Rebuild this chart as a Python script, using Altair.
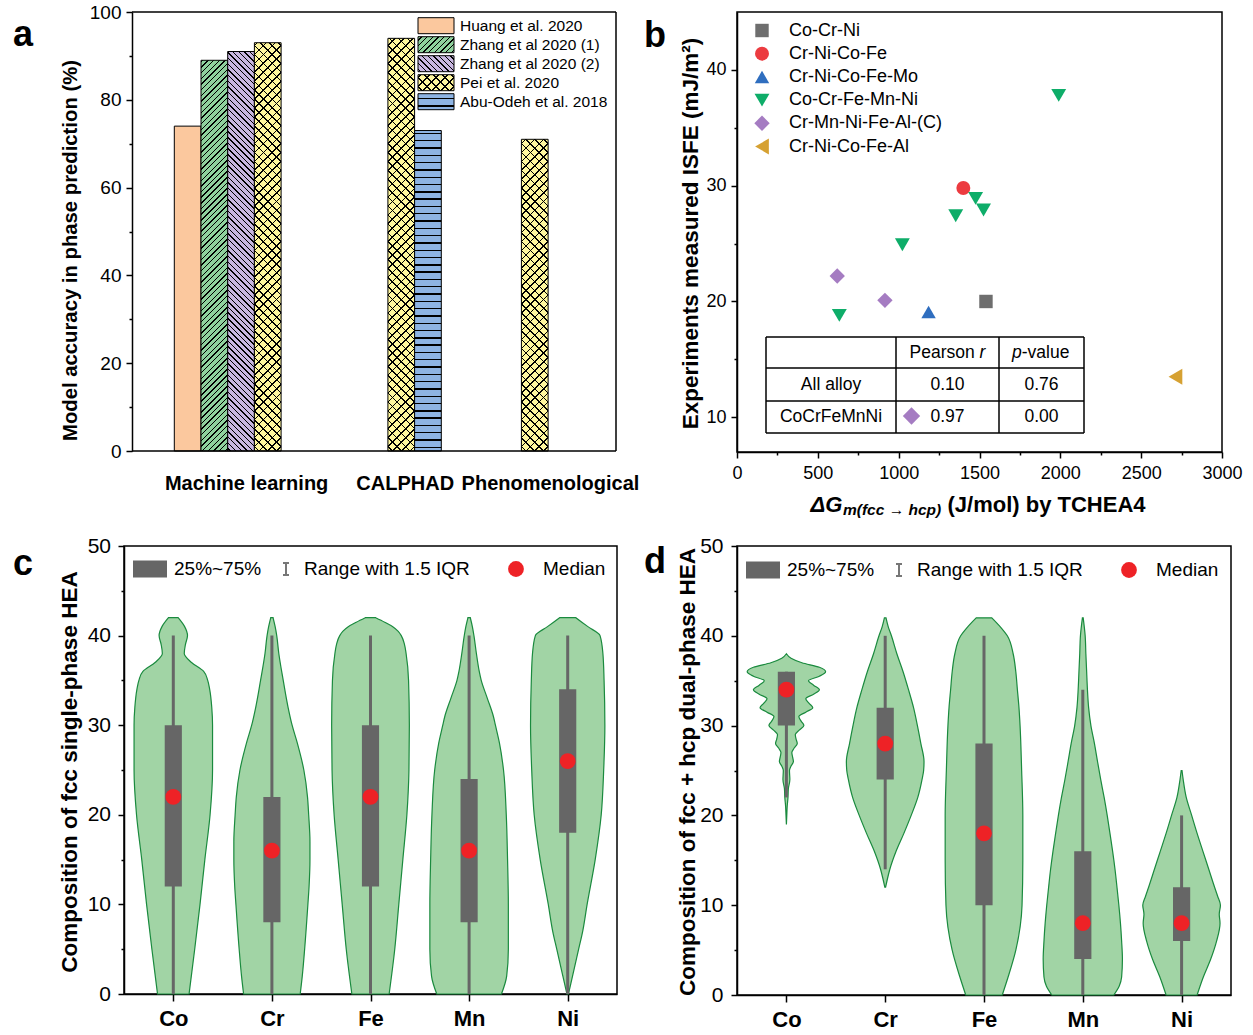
import math
import altair as alt
import pandas as pd

FONT = "Liberation Sans"

# ---------------- (a) accuracy of phase-prediction models ----------------
methods = ["Machine learning", "CALPHAD", "Phenomenological"]
sources = ["Huang et al. 2020", "Zhang et al 2020 (1)", "Zhang et al 2020 (2)",
           "Pei et al. 2020", "Abu-Odeh et al. 2018"]
bar_method = ["Machine learning", "Machine learning", "Machine learning", "Machine learning",
              "CALPHAD", "CALPHAD", "Phenomenological"]
bar_source = ["Huang et al. 2020", "Zhang et al 2020 (1)", "Zhang et al 2020 (2)",
              "Pei et al. 2020", "Pei et al. 2020", "Abu-Odeh et al. 2018",
              "Pei et al. 2020"]
bar_accuracy = [74, 89, 91, 93, 94, 73, 71]

# ---------------- (b) measured ISFE against the fcc->hcp driving force ----------------
alloy_systems = ["Co-Cr-Ni", "Cr-Ni-Co-Fe", "Cr-Ni-Co-Fe-Mo", "Co-Cr-Fe-Mn-Ni",
                 "Cr-Mn-Ni-Fe-Al-(C)", "Cr-Ni-Co-Fe-Al"]
point_system = ["Co-Cr-Ni", "Cr-Ni-Co-Fe", "Cr-Ni-Co-Fe-Mo",
                "Co-Cr-Fe-Mn-Ni", "Co-Cr-Fe-Mn-Ni", "Co-Cr-Fe-Mn-Ni",
                "Co-Cr-Fe-Mn-Ni", "Co-Cr-Fe-Mn-Ni", "Co-Cr-Fe-Mn-Ni",
                "Cr-Mn-Ni-Fe-Al-(C)", "Cr-Mn-Ni-Fe-Al-(C)", "Cr-Ni-Co-Fe-Al"]
point_dg = [1540, 1400, 1185, 1990, 1476, 1525, 1353, 1023, 633, 620, 915, 2712]
point_isfe = [20.0, 29.8, 19.1, 37.8, 28.9, 27.9, 27.4, 24.9, 18.8, 22.2, 20.1, 13.5]
corr_groups = ["All alloy", "CoCrFeMnNi"]
corr_r = ["0.10", "0.97"]
corr_p = ["0.76", "0.00"]

# ---------------- (c), (d) composition distributions ----------------
elements = ["Co", "Cr", "Fe", "Mn", "Ni"]

single_q1 = [12, 8, 12, 8, 18]
single_q3 = [30, 22, 30, 24, 34]
single_median = [22, 16, 22, 16, 26]
single_lo = [0, 0, 0, 0, 0]
single_hi = [40, 40, 40, 40, 40]

dual_q1 = [30, 24, 10, 4, 6]
dual_q3 = [36, 32, 28, 16, 12]
dual_median = [34, 28, 18, 8, 8]
dual_lo = [22, 14, 0, 0, 0]
dual_hi = [36, 40, 40, 34, 20]

# violin outlines: composition level -> half width (in category units)
single_violin = {
    "Co": ([0, 5, 10, 15, 20, 25, 30, 32, 34, 35, 36, 37, 38, 39, 40, 41, 42],
           [0.160, 0.217, 0.271, 0.320, 0.373, 0.398, 0.398, 0.390, 0.369, 0.349,
            0.308, 0.185, 0.111, 0.123, 0.144, 0.115, 0.049]),
    "Cr": ([0, 2, 5, 10, 12, 15, 17, 20, 22, 25, 28, 30, 32, 35, 38, 40, 41, 42],
           [0.287, 0.308, 0.332, 0.365, 0.377, 0.386, 0.386, 0.373, 0.361, 0.324,
            0.258, 0.205, 0.164, 0.115, 0.070, 0.049, 0.033, 0.012]),
    "Fe": ([0, 5, 10, 15, 20, 25, 30, 35, 38, 39, 40, 40.5, 41, 41.5, 42],
           [0.189, 0.246, 0.287, 0.328, 0.369, 0.390, 0.394, 0.386, 0.361, 0.345,
            0.312, 0.279, 0.226, 0.144, 0.053]),
    "Mn": ([0, 2, 5, 10, 15, 20, 25, 28, 30, 31, 33, 35, 36, 38, 40, 41, 42],
           [0.328, 0.381, 0.398, 0.398, 0.390, 0.377, 0.349, 0.308, 0.267, 0.246,
            0.185, 0.123, 0.103, 0.074, 0.049, 0.033, 0.012]),
    "Ni": ([0, 2, 5, 7, 10, 15, 20, 25, 30, 35, 38, 40, 41, 42],
           [0.008, 0.049, 0.111, 0.152, 0.197, 0.279, 0.340, 0.365, 0.377, 0.369,
            0.357, 0.328, 0.205, 0.082]),
}
dual_violin = {
    "Co": ([19, 20, 21, 22, 23, 24, 25, 25.5, 26, 26.5, 27, 27.5, 28, 28.5, 29, 29.5,
            30, 30.5, 31, 31.5, 32, 32.5, 33, 33.5, 34, 34.5, 35, 35.5, 36, 36.5, 37, 37.5, 38],
           [0.0, 0.004, 0.008, 0.016, 0.020, 0.035, 0.031, 0.047, 0.071, 0.063, 0.055,
            0.079, 0.110, 0.098, 0.090, 0.130, 0.177, 0.149, 0.126, 0.196, 0.267, 0.228,
            0.196, 0.275, 0.334, 0.275, 0.224, 0.334, 0.397, 0.334, 0.157, 0.047, 0.0]),
    "Cr": ([12, 13, 14, 16, 18, 20, 22, 24, 25, 26, 28, 30, 32, 34, 36, 38, 40, 41, 42],
           [0.004, 0.024, 0.047, 0.110, 0.189, 0.263, 0.330, 0.373, 0.389, 0.393, 0.361,
            0.326, 0.287, 0.236, 0.181, 0.118, 0.063, 0.031, 0.008]),
    "Fe": ([0, 2, 5, 10, 15, 20, 25, 30, 32, 34, 36, 38, 40, 41, 42],
           [0.185, 0.244, 0.322, 0.385, 0.393, 0.393, 0.381, 0.365, 0.354, 0.338, 0.322,
            0.295, 0.236, 0.165, 0.079]),
    "Mn": ([0, 1, 2, 4, 6, 8, 10, 12, 14, 16, 18, 20, 22, 24, 26, 28, 30, 32, 34, 36, 38, 40, 42],
           [0.314, 0.369, 0.393, 0.401, 0.393, 0.381, 0.365, 0.346, 0.326, 0.302, 0.275,
            0.247, 0.216, 0.181, 0.149, 0.118, 0.082, 0.059, 0.047, 0.039, 0.031, 0.024, 0.004]),
    "Ni": ([0, 2, 4, 6, 8, 9, 10, 11, 12, 14, 16, 18, 20, 22, 24, 25],
           [0.157, 0.220, 0.295, 0.354, 0.389, 0.381, 0.393, 0.365, 0.334, 0.275, 0.216,
            0.157, 0.102, 0.047, 0.016, 0.004]),
}

# ---------------- styling ----------------
bar_style = {
    "Huang et al. 2020": {"bg": "#FBC89E", "hatch": []},
    "Zhang et al 2020 (1)": {"bg": "#8FD19D", "hatch": [((1, -1), 4.0, 1.0)]},
    "Zhang et al 2020 (2)": {"bg": "#C8B7E0", "hatch": [((1, 1), 4.0, 1.0)]},
    "Pei et al. 2020": {"bg": "#FFF79E", "hatch": [((1, -1), 6.3, 1.1), ((1, 1), 6.3, 1.1)]},
    "Abu-Odeh et al. 2018": {"bg": "#8EB4E3", "hatch": [((1, 0), 7.3, 1.5)]},
}
system_color = ["#6E6E6E", "#EC3B40", "#2F6EBF", "#0EAD69", "#A57CC2", "#D6A132"]
system_shape = ["square", "circle", "triangle-up", "triangle-down", "diamond", "triangle-left"]
system_size = [180, 250, 290, 290, 300, 300]
VIOLIN_FILL = "#A1D4A5"
VIOLIN_STROKE = "#1A8A3E"
BOX_GRAY = "#666666"
MEDIAN_RED = "#EE2226"
BOX_HALF = 0.087

ONE = pd.DataFrame({"k": [0]})


def hatch_fill(w, h, along, spacing, lw, bg, fg="#000000"):
    """Linear gradient (bounding-box units) that paints parallel lines in pixel space."""
    dx, dy = along
    n = math.hypot(dx, dy)
    dx, dy = dx / n, dy / n
    phis = [px * dy - py * dx for px, py in [(0, 0), (w, 0), (0, h), (w, h)]]
    pmin, pmax = min(phis), max(phis)
    span = pmax - pmin
    gx, gy = dy / h, -dx / w
    fs = [u * gx + v * gy for u, v in [(0, 0), (1, 0), (0, 1), (1, 1)]]
    fmin, fmax = min(fs), max(fs)
    g2 = gx * gx + gy * gy
    stops = [(0.0, bg)]
    c = spacing / 2.0
    while c - lw / 2.0 < span:
        a = max(0.0, (c - lw / 2.0) / span)
        b = min(1.0, (c + lw / 2.0) / span)
        stops += [(a, bg), (a, fg), (b, fg), (b, bg)]
        c += spacing
    stops.append((1.0, bg))
    return alt.LinearGradient(
        gradient="linear",
        stops=[alt.GradientStop(offset=round(o, 5), color=col) for o, col in stops],
        x1=gx * fmin / g2, y1=gy * fmin / g2, x2=gx * fmax / g2, y2=gy * fmax / g2,
    )


def fills_for(style, w, h):
    if not style["hatch"]:
        return [style["bg"]]
    out = []
    for j, (along, sp, lw) in enumerate(style["hatch"]):
        out.append(hatch_fill(w, h, along, sp, lw, style["bg"] if j == 0 else "transparent"))
    return out


def label(txt, x, y, size, weight="normal", style="normal", align="left",
          baseline="middle", color="black"):
    return alt.Chart(pd.DataFrame({"t": [txt]})).mark_text(
        align=align, baseline=baseline, font=FONT, fontSize=size,
        fontWeight=weight, fontStyle=style, color=color,
    ).encode(text="t:N", x=alt.value(x), y=alt.value(y))


def seg(x1, y1, x2, y2, color="black", width=1.5):
    return alt.Chart(ONE).mark_rule(color=color, strokeWidth=width).encode(
        x=alt.value(x1), x2=alt.value(x2), y=alt.value(y1), y2=alt.value(y2))


def tick_len(step, major=6, minor=3):
    return {"condition": {"test": f"datum.value % {step} === 0", "value": major}, "value": minor}


# =============== panel (a) ===============
# the view is a little wider than the framed plot; the y axis is pulled inside by A_INSET
A_VIEW_W, A_H = 495, 439
A_INSET, A_RIGHT = 8, 492
SLOT_DOMAIN = [-1.884, 16.655]
slot_px = A_VIEW_W / (SLOT_DOMAIN[1] - SLOT_DOMAIN[0])
A_LABEL_POS = [2.69, 8.63, 14.07]

bars = pd.DataFrame({"method": bar_method, "source": bar_source, "acc": bar_accuracy})
bars["bar"] = range(len(bars))
bars["slot"] = [5 * methods.index(m) + sources.index(s) for m, s in zip(bar_method, bar_source)]
bars["slot_end"] = bars["slot"] + 1
bars["base"] = 0

a_label_expr = (f"datum.value < {A_LABEL_POS[0] + 3} ? '{methods[0]}' : "
                f"datum.value < {A_LABEL_POS[1] + 3} ? '{methods[1]}' : '{methods[2]}'")
xa = alt.X("slot:Q", scale=alt.Scale(domain=SLOT_DOMAIN, nice=False, zero=False),
           axis=alt.Axis(values=A_LABEL_POS, labelExpr=a_label_expr, ticks=False, domain=False,
                         title=None, labelFontSize=20, labelFontWeight="bold", labelPadding=22))
ya = alt.Y("acc:Q", scale=alt.Scale(domain=[0, 100], nice=False, zero=False),
           axis=alt.Axis(values=list(range(0, 101, 10)), offset=-A_INSET,
                         labelExpr="datum.value % 20 === 0 ? datum.label : ''",
                         tickSize=tick_len(20), labelFontSize=19, labelPadding=5,
                         title="Model accuracy in phase prediction (%)", titleFontSize=20.3,
                         titleX=-62, titleY=238, titleAngle=270, titleAlign="center",
                         titleBaseline="middle"))

a_base = alt.Chart(bars).encode(x=xa, x2="slot_end:Q", y=ya, y2="base:Q")
a_layers = []
for i in range(len(bars)):
    style = bar_style[bar_source[i]]
    fl = fills_for(style, slot_px, bar_accuracy[i] * A_H / 100.0)
    for j, f in enumerate(fl):
        last = j == len(fl) - 1
        a_layers.append(
            a_base.transform_filter(alt.datum.bar == i).mark_rect(
                fill=f, stroke="black", strokeWidth=1.0 if last else 0.0)
        )
# frame of the plot area
a_layers += [
    seg(A_INSET, 0, A_RIGHT, 0),
    seg(A_RIGHT, 0, A_RIGHT, A_H),
    seg(A_INSET, A_H, A_RIGHT, A_H),
]
LEG_A_Y0, LEG_A_DY = 13.7, 19.0
for i, src in enumerate(sources):
    yc = LEG_A_Y0 + i * LEG_A_DY
    fl = fills_for(bar_style[src], 36, 16)
    for j, f in enumerate(fl):
        last = j == len(fl) - 1
        a_layers.append(alt.Chart(ONE).mark_rect(fill=f, stroke="black",
                                                 strokeWidth=1.0 if last else 0.0).encode(
            x=alt.value(294), x2=alt.value(330), y=alt.value(yc - 8), y2=alt.value(yc + 8)))
    a_layers.append(label(src, 336, yc, 15.5))
a_layers.append(label("a", -111, 34, 36, weight="bold", baseline="alphabetic"))
panel_a = alt.layer(*a_layers).properties(
    width=A_VIEW_W, height=A_H, view=alt.ViewBackground(strokeOpacity=0))

# =============== panel (b) ===============
B_W, B_H = 485, 440
B_ORIGIN_X = A_VIEW_W + 118   # where panel b starts inside the figure
pts = pd.DataFrame({"system": point_system, "dg": point_dg, "isfe": point_isfe})
xb = alt.X("dg:Q", scale=alt.Scale(domain=[0, 3000], nice=False, zero=False),
           axis=alt.Axis(values=list(range(0, 3001, 250)), format="d",
                         labelExpr="datum.value % 500 === 0 ? datum.label : ''",
                         tickSize=tick_len(500), labelFontSize=18, labelPadding=6, title=None))
yb = alt.Y("isfe:Q", scale=alt.Scale(domain=[7, 45], nice=False, zero=False),
           axis=alt.Axis(values=list(range(10, 41, 5)),
                         labelExpr="datum.value % 10 === 0 ? datum.label : ''",
                         tickSize=tick_len(10), labelFontSize=18, labelPadding=5,
                         title="Experiments measured ISFE (mJ/m²)", titleFontSize=22.5,
                         titleX=-47, titleY=221, titleAngle=270, titleAlign="center",
                         titleBaseline="middle"))
b_legend = alt.Legend(orient="none", legendX=B_ORIGIN_X + 16, legendY=9.5, title=None,
                      labelFont=FONT, labelFontSize=18, labelColor="black", labelOffset=18,
                      rowPadding=5.2, padding=0, symbolOpacity=1, symbolStrokeWidth=0)
b_points = alt.Chart(pts).mark_point(filled=True, opacity=1, strokeWidth=0).encode(
    x=xb, y=yb,
    color=alt.Color("system:N", scale=alt.Scale(domain=alloy_systems, range=system_color), legend=b_legend),
    shape=alt.Shape("system:N", scale=alt.Scale(domain=alloy_systems, range=system_shape), legend=b_legend),
    size=alt.Size("system:N", scale=alt.Scale(domain=alloy_systems, range=system_size), legend=b_legend),
)

TX = [29, 159, 262, 347]
TY = [325, 356, 389, 421]
b_layers = [b_points]
for ty in TY:
    b_layers.append(seg(TX[0], ty, TX[-1], ty))
for tx in TX:
    b_layers.append(seg(tx, TY[0], tx, TY[-1]))
col_c = [(TX[0] + TX[1]) / 2, (TX[1] + TX[2]) / 2, (TX[2] + TX[3]) / 2]
row_c = [(TY[0] + TY[1]) / 2, (TY[1] + TY[2]) / 2, (TY[2] + TY[3]) / 2]
TFS = 17.5
b_layers += [
    label("Pearson", 172.6, row_c[0], TFS),
    label("r", 242.6, row_c[0], TFS, style="italic"),
    label("p", 275, row_c[0], TFS, style="italic"),
    label("-value", 284.7, row_c[0], TFS),
]
for k, grp in enumerate(corr_groups):
    b_layers.append(label(grp, col_c[0], row_c[k + 1], TFS, align="center"))
    b_layers.append(label(corr_r[k], col_c[1], row_c[k + 1], TFS, align="center"))
    b_layers.append(label(corr_p[k], col_c[2], row_c[k + 1], TFS, align="center"))
b_layers.append(alt.Chart(ONE).mark_point(filled=True, opacity=1, shape="diamond",
                                          size=300, color=system_color[4], strokeWidth=0).encode(
    x=alt.value(174.5), y=alt.value(row_c[2] - 1)))
b_layers += [
    label("ΔG", 73.6, 500, 22, weight="bold", style="italic", baseline="alphabetic"),
    label("m(fcc → hcp)", 106, 503, 15.5, weight="bold", style="italic", baseline="alphabetic"),
    label("(J/mol) by TCHEA4", 210.5, 500, 22, weight="bold", baseline="alphabetic"),
    label("b", -93, 35, 36, weight="bold", baseline="alphabetic"),
]
panel_b = alt.layer(*b_layers).properties(width=B_W, height=B_H)


# =============== panels (c) and (d) ===============
def violin_panel(violins, q1, q3, med, lo, hi, y_title, letter, width, height,
                 title_x, title_y, letter_x, letter_y, leg_y, label_pad):
    rows = []
    for i, el in enumerate(elements):
        levels, half = violins[el]
        for lv, hw in zip(levels, half):
            rows.append({"element": el, "level": lv, "left": i + 1 - hw, "right": i + 1 + hw})
    vdf = pd.DataFrame(rows)
    sdf = pd.DataFrame({"element": elements, "pos": list(range(1, len(elements) + 1)),
                        "q1": q1, "q3": q3, "median": med, "lo": lo, "hi": hi})
    names = ",".join(f"'{e}'" for e in elements)
    x_axis = alt.Axis(values=list(range(1, len(elements) + 1)),
                      labelExpr=f"[{names}][datum.value - 1]", tickSize=7,
                      labelFontSize=22, labelFontWeight="bold", labelPadding=7, title=None)
    y_axis = alt.Axis(values=list(range(0, 51, 5)),
                      labelExpr="datum.value % 10 === 0 ? datum.label : ''",
                      tickSize=tick_len(10), labelFontSize=21, labelPadding=label_pad,
                      title=y_title, titleFontSize=22.5, titleX=title_x, titleY=title_y,
                      titleAngle=270, titleAlign="center", titleBaseline="middle")

    def X(field):
        return alt.X(f"{field}:Q", scale=alt.Scale(domain=[0.5, 5.5], nice=False, zero=False), axis=x_axis)

    def Y(field):
        return alt.Y(f"{field}:Q", scale=alt.Scale(domain=[0, 50], nice=False, zero=False), axis=y_axis)

    violin = alt.Chart(vdf).mark_area(
        orient="horizontal", interpolate="monotone", fill=VIOLIN_FILL, fillOpacity=1,
        stroke=VIOLIN_STROKE, strokeWidth=1.2,
    ).encode(x=X("left"), x2="right:Q", y=Y("level"), detail="element:N")
    whisker = alt.Chart(sdf).mark_rule(color=BOX_GRAY, strokeWidth=3).encode(
        x=X("pos"), y=Y("lo"), y2="hi:Q")
    box = alt.Chart(sdf).transform_calculate(
        bl=f"datum.pos - {BOX_HALF}", br=f"datum.pos + {BOX_HALF}"
    ).mark_rect(color=BOX_GRAY).encode(x=X("bl"), x2="br:Q", y=Y("q1"), y2="q3:Q")
    median = alt.Chart(sdf).mark_point(filled=True, color=MEDIAN_RED, size=250, opacity=1,
                                       strokeWidth=0).encode(x=X("pos"), y=Y("median"))
    layers = [violin, whisker, box, median]
    # key
    layers += [
        alt.Chart(ONE).mark_rect(color=BOX_GRAY).encode(
            x=alt.value(9), x2=alt.value(43), y=alt.value(leg_y - 8.5), y2=alt.value(leg_y + 8.5)),
        label("25%~75%", 50, leg_y, 19),
        seg(162, leg_y - 6, 162, leg_y + 6, color="#777777", width=2),
        seg(159, leg_y - 6, 165, leg_y - 6, color="#777777", width=2),
        seg(159, leg_y + 6, 165, leg_y + 6, color="#777777", width=2),
        label("Range with 1.5 IQR", 180, leg_y, 19),
        alt.Chart(ONE).mark_point(filled=True, color=MEDIAN_RED, size=250, opacity=1,
                                  strokeWidth=0).encode(x=alt.value(392), y=alt.value(leg_y)),
        label("Median", 419, leg_y, 19),
        label(letter, letter_x, letter_y, 36, weight="bold", baseline="alphabetic"),
    ]
    return alt.layer(*layers).properties(width=width, height=height)


panel_c = violin_panel(single_violin, single_q1, single_q3, single_median, single_lo, single_hi,
                       "Composition of fcc single-phase HEA", "c", 493, 448,
                       -55, 225.5, -111, 29, 23, 7.5)
panel_d = violin_panel(dual_violin, dual_q1, dual_q3, dual_median, dual_lo, dual_hi,
                       "Composition of fcc + hcp dual-phase HEA", "d", 494, 449,
                       -50, 225.5, -93, 27, 24, 8)

# =============== assembly ===============
chart = alt.concat(
    panel_a, panel_b, panel_c, panel_d,
    columns=2, spacing={"row": 94, "column": 118}, bounds="flush", align="none",
).properties(
    padding={"left": 12, "top": 3, "right": 8, "bottom": 8}, background="white"
).configure_view(
    stroke="black", strokeWidth=1.5
).configure_axis(
    labelFont=FONT, titleFont=FONT, labelColor="black", titleColor="black",
    tickColor="black", domainColor="black", domainWidth=1.5, tickWidth=1.5,
    grid=False, labelFlush=False, labelOverlap=False, titleFontWeight="bold",
)

chart.save("out.html", embed_options={"renderer": "svg", "actions": False})
